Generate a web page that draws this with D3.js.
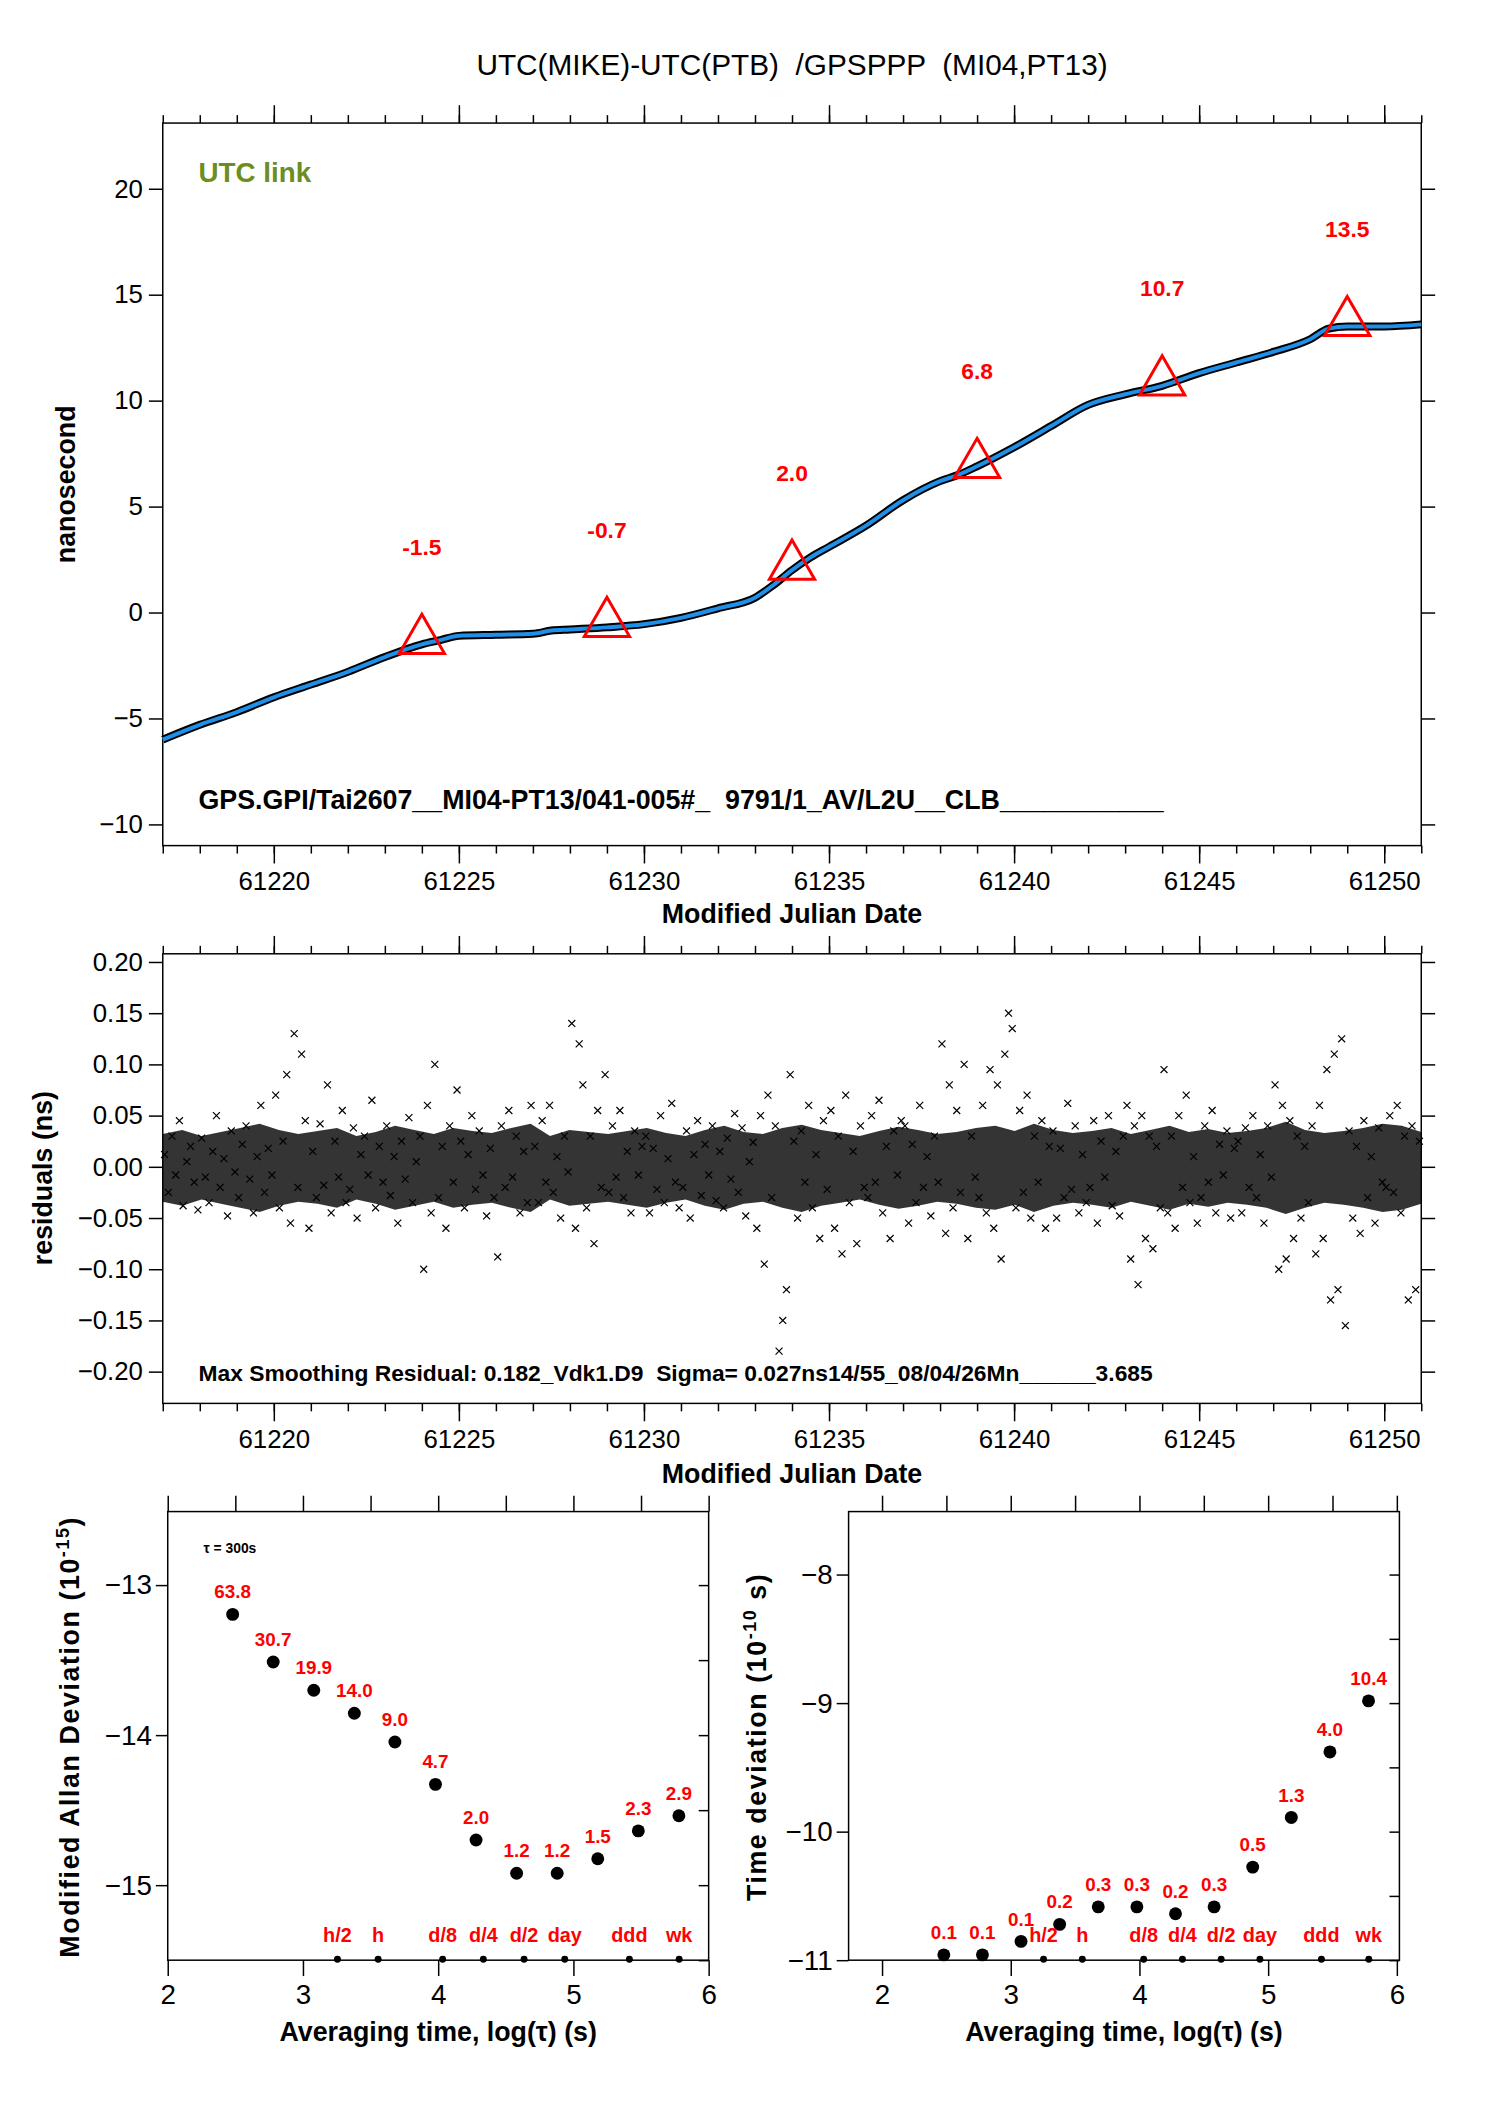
<!DOCTYPE html>
<html><head><meta charset="utf-8">
<script src="https://cdn.jsdelivr.net/npm/d3@7"></script>
<style>body{margin:0;background:#fff}text{font-family:"Liberation Sans",Arial,sans-serif;white-space:pre}</style>
</head><body><svg id="c" width="1488" height="2105"></svg>
<script>
// ---------- DATA ----------
const mjdTicks = [61220,61225,61230,61235,61240,61245,61250];
const linkMjd = [61217,61218,61219,61220,61221,61222,61223,61224,61224.5,61225,61226,61227,61227.5,61228,61229,61230,61231,61232,61233,61233.5,61234,61234.5,61235,61236,61237,61238,61238.5,61239,61240,61241,61242,61243,61244,61245,61246,61247,61248,61248.5,61249,61250,61251];
const linkNs  = [-6.0,-5.3,-4.7,-4.0,-3.4,-2.8,-2.1,-1.5,-1.3,-1.1,-1.05,-1.0,-0.85,-0.8,-0.7,-0.55,-0.25,0.2,0.7,1.3,2.0,2.6,3.1,4.1,5.3,6.2,6.5,6.9,7.8,8.8,9.8,10.3,10.7,11.3,11.8,12.3,12.9,13.4,13.5,13.5,13.6];
const triMjd = [61224,61229,61234,61239,61244,61249];
const triVal = [-1.5,-0.7,2.0,6.8,10.7,13.5];
// residuals, picoseconds, 10 per day starting 61217
const residPs = [
12,-25,30,-8,45,-38,5,20,-15,-42, 28,-10,-35,15,50,-20,8,-48,35,-5,
-30,22,40,-12,-45,10,60,-25,18,-8, 70,-40,25,90,-55,130,-20,110,45,-60,
15,-30,42,-18,80,-45,25,-10,55,-35, -22,38,-50,12,30,-8,65,-40,20,-15,
40,-28,10,-55,25,-12,48,-35,5,30, -100,60,-45,100,-30,20,-60,40,-15,75,
25,-40,12,50,-22,35,-8,-48,18,-30, -88,40,-20,55,-10,30,-45,15,-35,60,
20,-35,45,-15,60,-25,10,-50,30,-5, 140,-60,120,80,-40,30,-75,55,-20,90,
-25,40,-10,55,-30,15,-45,35,-8,20, 30,-45,18,-22,50,-35,8,62,-15,-40,
-20,35,-50,12,45,-28,22,-8,40,-33, 15,-40,28,-12,52,-25,38,-48,5,24,
-60,50,-95,70,-30,40,-180,-150,-120,90, 25,-50,35,-15,60,-40,12,-70,45,-22,
55,-60,30,-85,70,-35,15,-75,40,-20, -30,50,-15,65,-45,20,-70,35,-8,45,
40,-55,22,-35,60,-20,10,-48,30,-15, 120,-65,80,-40,55,-25,100,-70,30,-10,
-30,60,-45,95,-60,80,-90,110,150,135, -40,55,-25,70,-50,30,-15,45,-60,20,
35,-50,18,-30,62,-22,40,-45,12,-35, -20,45,-55,25,-10,50,-38,15,-48,30,
60,-90,40,-115,50,-70,30,-80,20,-40, 95,-45,30,-60,50,-20,70,-35,10,-55,
-30,40,-15,55,-45,22,-8,35,-50,18, 25,-45,38,-20,50,-30,12,-55,40,-10,
80,-100,60,-90,45,-70,30,-50,20,-35, 40,-85,60,-70,95,-130,110,-120,125,-155,
35,-50,20,-65,45,-30,10,-55,38,-15, -20,50,-25,60,-45,30,-130,40,-120,25];
// core band of residual scatter (per half day, ps)
const coreUp = [32,36,30,34,38,42,36,32,35,38,30,34,40,36,32,38,35,33,38,42,30,36,34,32,35,38,33,30,36,40,34,32,38,41,36,33,30,35,39,36,32,34,38,40,35,42,36,33,35,38,32,36,40,34,37,33,35,38,44,36,33,35,38,42,40,34];
const coreLo = [-34,-38,-32,-36,-40,-44,-38,-34,-36,-40,-32,-36,-42,-38,-34,-40,-37,-35,-40,-44,-32,-38,-36,-34,-37,-40,-35,-32,-38,-42,-36,-34,-40,-44,-38,-35,-32,-37,-41,-38,-34,-36,-40,-42,-37,-44,-38,-35,-37,-40,-34,-38,-42,-36,-39,-35,-37,-40,-46,-40,-35,-37,-40,-44,-42,-36];
const residTicks = [-0.20,-0.15,-0.10,-0.05,0,0.05,0.10,0.15,0.20];
// stability plots
const logTau = [2.48,2.78,3.08,3.38,3.68,3.98,4.28,4.58,4.88,5.18,5.48,5.78];
const mdev = [63.8,30.7,19.9,14.0,9.0,4.7,2.0,1.2,1.2,1.5,2.3,2.9];      // 1e-15
const tdevPlot = [0.11,0.11,0.14,0.19,0.26,0.26,0.23,0.26,0.53,1.29,4.17,10.4]; // 1e-10 s
const tdevLbl = ["0.1","0.1","0.1","0.2","0.3","0.3","0.2","0.3","0.5","1.3","4.0","10.4"];
const markNames = ["h/2","h","d/8","d/4","d/2","day","ddd","wk"];
const markLog = [3.255,3.556,4.033,4.334,4.635,4.936,5.414,5.782];

// ---------- DRAW ----------
const svg = d3.select("#c").append("g").attr("transform","scale(0.9925)");
svg.append("text").attr("x",798).attr("y",76).attr("text-anchor","middle").attr("font-size",30)
  .text("UTC(MIKE)-UTC(PTB)  /GPSPPP  (MI04,PT13)");

function frame(g,x0,x1,y0,y1){g.append("rect").attr("x",x0).attr("y",y0).attr("width",x1-x0).attr("height",y1-y0).attr("fill","none").attr("stroke","#000").attr("stroke-width",1.5);}
function style(g,fs){g.selectAll("path.domain").remove();g.selectAll("line").attr("stroke","#000").attr("stroke-width",1.5);g.selectAll("text").attr("font-size",fs).attr("fill","#000");}
const minus = d=>String(d).replace("-","\u2212");

// ---- top plot
const L=164,R=1432,T1=124,B1=852;
const x1 = d3.scaleLinear().domain([61217,61251]).range([L,R]);
const y1 = d3.scaleLinear().domain([-11,23.1]).range([B1,T1]);
const g1 = svg.append("g");
frame(g1,L,R,T1,B1);
const minorMjd = d3.range(61217,61252);
[[B1,d3.axisBottom,0],[T1,d3.axisTop,1]].forEach(([yy,ax,top])=>{
  g1.append("g").attr("transform",`translate(0,${yy})`).call(ax(x1).tickValues(minorMjd).tickSize(8).tickFormat("")).call(s=>style(s,26));
  g1.append("g").attr("transform",`translate(0,${yy})`).call(ax(x1).tickValues(mjdTicks).tickSize(18).tickPadding(8).tickFormat(top?"":d3.format("d"))).call(s=>style(s,26));
});
g1.append("g").attr("transform",`translate(${L},0)`).call(d3.axisLeft(y1).tickValues([-10,-5,0,5,10,15,20]).tickSize(14).tickPadding(6).tickFormat(minus)).call(s=>style(s,26));
g1.append("g").attr("transform",`translate(${R},0)`).call(d3.axisRight(y1).tickValues([-10,-5,0,5,10,15,20]).tickSize(14).tickFormat("")).call(s=>style(s,26));
const ln = d3.line().x((d,i)=>x1(linkMjd[i])).y(d=>y1(d)).curve(d3.curveMonotoneX);
g1.append("path").attr("d",ln(linkNs)).attr("fill","none").attr("stroke","#000").attr("stroke-width",8).attr("stroke-linejoin","round");
g1.append("path").attr("d",ln(linkNs)).attr("fill","none").attr("stroke","#1f8fe8").attr("stroke-width",4).attr("stroke-linejoin","round");
const tri = d3.symbol().type(d3.symbolTriangle).size(900);
triMjd.forEach((m,i)=>{
  g1.append("path").attr("d",tri()).attr("transform",`translate(${x1(m)},${y1(triVal[i])-4})`).attr("fill","none").attr("stroke","#ff0000").attr("stroke-width",3);
  g1.append("text").attr("x",x1(m)).attr("y",y1(triVal[i]+4.6)+8).attr("text-anchor","middle").attr("font-size",23).attr("font-weight","bold").attr("fill","#ff0000").text(triVal[i].toFixed(1));
});
g1.append("text").attr("x",200).attr("y",183).attr("font-size",28).attr("font-weight","bold").attr("fill","#6b8e23").text("UTC link");
g1.append("text").attr("x",200).attr("y",815).attr("font-size",27).attr("font-weight","bold").text("GPS.GPI/Tai2607__MI04-PT13/041-005#_  9791/1_AV/L2U__CLB___________");
g1.append("text").attr("transform",`translate(76,488) rotate(-90)`).attr("text-anchor","middle").attr("font-size",27).attr("font-weight","bold").text("nanosecond");
g1.append("text").attr("x",798).attr("y",930).attr("text-anchor","middle").attr("font-size",27).attr("font-weight","bold").text("Modified Julian Date");

// ---- residual plot
const T2=961,B2=1414;
const y2 = d3.scaleLinear().domain([-0.231,0.208]).range([B2,T2]);
const g2 = svg.append("g");
const band = d3.area().x((d,i)=>x1(61217+i*34/(coreUp.length-1))).y0((d,i)=>y2(coreLo[i]/1000)).y1(d=>y2(d/1000));
g2.append("path").attr("d",band(coreUp)).attr("fill","#111").attr("opacity",0.85);
residPs.forEach((v,i)=>{
  const cx=x1(61217+(i+0.5)/10), cy=y2(v/1000);
  g2.append("path").attr("d",`M${cx-3.5},${cy-3.5}L${cx+3.5},${cy+3.5}M${cx-3.5},${cy+3.5}L${cx+3.5},${cy-3.5}`).attr("stroke","#000").attr("stroke-width",1.2);
});
frame(g2,L,R,T2,B2);
[[B2,d3.axisBottom,0],[T2,d3.axisTop,1]].forEach(([yy,ax,top])=>{
  g2.append("g").attr("transform",`translate(0,${yy})`).call(ax(x1).tickValues(minorMjd).tickSize(8).tickFormat("")).call(s=>style(s,26));
  g2.append("g").attr("transform",`translate(0,${yy})`).call(ax(x1).tickValues(mjdTicks).tickSize(18).tickPadding(8).tickFormat(top?"":d3.format("d"))).call(s=>style(s,26));
});
g2.append("g").attr("transform",`translate(${L},0)`).call(d3.axisLeft(y2).tickValues(residTicks).tickSize(14).tickPadding(6).tickFormat(d=>minus(d3.format(".2f")(d)))).call(s=>style(s,26));
g2.append("g").attr("transform",`translate(${R},0)`).call(d3.axisRight(y2).tickValues(residTicks).tickSize(14).tickFormat("")).call(s=>style(s,26));
g2.append("text").attr("x",200).attr("y",1391).attr("font-size",23).attr("font-weight","bold").text("Max Smoothing Residual: 0.182_Vdk1.D9  Sigma= 0.027ns14/55_08/04/26Mn______3.685");
g2.append("text").attr("transform",`translate(52,1187) rotate(-90)`).attr("text-anchor","middle").attr("font-size",27).attr("font-weight","bold").text("residuals (ns)");
g2.append("text").attr("x",798).attr("y",1494).attr("text-anchor","middle").attr("font-size",27).attr("font-weight","bold").text("Modified Julian Date");

// ---- stability plots
function stab(x0,x1p,xdom,ydom,yt,vals,lbls,ytitle,ytx,tau){
  const T=1523,B=1975;
  const xs=d3.scaleLinear().domain(xdom).range([x0,x1p]);
  const ys=d3.scaleLinear().domain(ydom).range([B,T]);
  const g=svg.append("g");
  frame(g,x0,x1p,T,B);
  g.append("g").attr("transform",`translate(0,${B})`).call(d3.axisBottom(xs).tickValues([2,3,4,5,6]).tickSize(16).tickPadding(8).tickFormat(d3.format("d"))).call(s=>style(s,28));
  g.append("g").attr("transform",`translate(0,${T})`).call(d3.axisTop(xs).tickValues([2,2.5,3,3.5,4,4.5,5,5.5,6]).tickSize(16).tickFormat("")).call(s=>style(s,28));
  g.append("g").attr("transform",`translate(${x0},0)`).call(d3.axisLeft(ys).tickValues(yt).tickSize(12).tickPadding(4).tickFormat(d=>minus(d))).call(s=>style(s,28));
  g.append("g").attr("transform",`translate(${x1p},0)`).call(d3.axisLeft(ys).tickValues(d3.range(ydom[0],ydom[1]+0.01,0.5)).tickSize(10).tickFormat("")).call(s=>style(s,28));
  vals.forEach((v,i)=>{
    g.append("circle").attr("cx",xs(logTau[i])).attr("cy",ys(v)).attr("r",6.5).attr("fill","#000");
    g.append("text").attr("x",xs(logTau[i])).attr("y",ys(v)-16).attr("text-anchor","middle").attr("font-size",19).attr("font-weight","bold").attr("fill","#ff0000").text(lbls[i]);
  });
  markLog.forEach((m,i)=>{
    g.append("circle").attr("cx",xs(m)).attr("cy",B-1).attr("r",3.5).attr("fill","#000");
    g.append("text").attr("x",xs(m)).attr("y",B-18).attr("text-anchor","middle").attr("font-size",20).attr("font-weight","bold").attr("fill","#ff0000").text(markNames[i]);
  });
  g.append("text").attr("x",(x0+x1p)/2).attr("y",2056).attr("text-anchor","middle").attr("font-size",27).attr("font-weight","bold").text("Averaging time, log(\u03c4) (s)");
  const yt2=g.append("text").attr("transform",`translate(${ytx},1750) rotate(-90)`).attr("text-anchor","middle").attr("font-size",27).attr("font-weight","bold").attr("letter-spacing",1.6);
  ytitle(yt2);
  if(tau) g.append("text").attr("x",x0+36).attr("y",1565).attr("font-size",14).attr("font-weight","bold").text("\u03c4 = 300s");
}
stab(169,714,[2,6],[-15.5,-12.51],[-15,-14,-13],mdev.map(v=>Math.log10(v*1e-15)),mdev.map(v=>v.toFixed(1)),
  t=>{t.append("tspan").text("Modified Allan Deviation (10");t.append("tspan").attr("font-size",18).attr("dy",-10).text("-15");t.append("tspan").attr("dy",10).text(")");},80,true);
stab(855,1410,[1.74,6.02],[-11,-7.51],[-11,-10,-9,-8],tdevPlot.map(v=>Math.log10(v*1e-10)),tdevLbl,
  t=>{t.append("tspan").text("Time deviation (10");t.append("tspan").attr("font-size",18).attr("dy",-10).text("-10");t.append("tspan").attr("dy",10).text(" s)");},772,false);
</script></body></html>
